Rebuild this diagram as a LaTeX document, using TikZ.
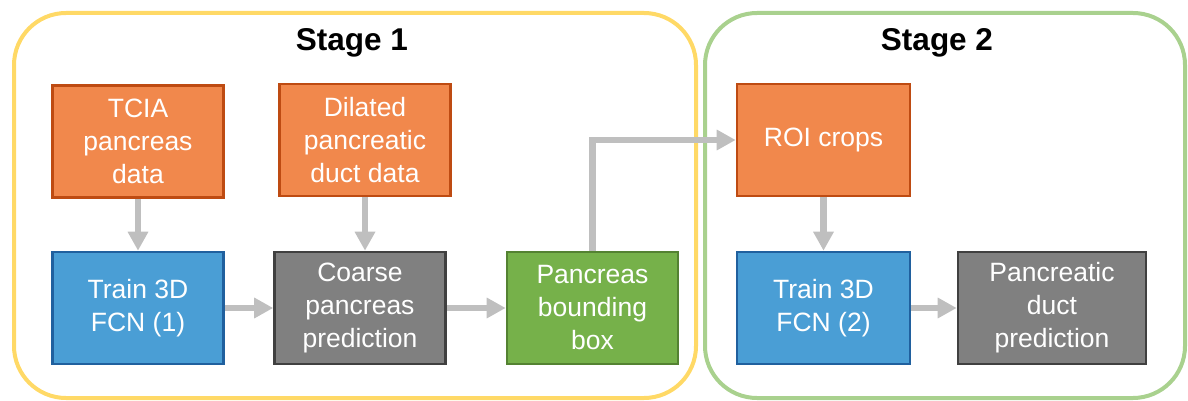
\documentclass[tikz,border=0pt]{standalone}
\usepackage{fontspec}
\setmainfont{Liberation Sans}
\usetikzlibrary{arrows.meta}
\definecolor{boxorange}{RGB}{241,136,76}
\definecolor{edgeorange}{RGB}{190,75,18}
\definecolor{boxblue}{RGB}{74,158,213}
\definecolor{edgeblue}{RGB}{32,96,158}
\definecolor{boxgray}{RGB}{128,128,128}
\definecolor{edgegray}{RGB}{64,64,64}
\definecolor{boxgreen}{RGB}{118,177,74}
\definecolor{edgegreen}{RGB}{84,130,50}
\definecolor{stageyellow}{RGB}{255,217,102}
\definecolor{stagegreen}{RGB}{169,209,142}
\definecolor{flowgray}{RGB}{191,191,191}
\tikzset{
  stagebox/.style={line width=4pt, rounded corners=52pt},
  block/.style={draw, line width=2.6pt, minimum width=171pt, minimum height=112pt,
    inner sep=0pt, align=center, text=white,
    font=\fontsize{26.5pt}{33pt}\selectfont},
  datablock/.style={block, fill=boxorange, draw=edgeorange},
  trainblock/.style={block, fill=boxblue, draw=edgeblue},
  predblock/.style={block, fill=boxgray, draw=edgegray},
  bboxblock/.style={block, fill=boxgreen, draw=edgegreen},
  stagetitle/.style={font=\fontsize{31.5pt}{36pt}\selectfont\bfseries, text=black},
  flow/.style={draw=flowgray, line width=6.5pt,
    -{Triangle[width=19.5pt,length=19pt]}},
}
\begin{document}
\begin{tikzpicture}[x=1pt,y=-1pt]
\useasboundingbox (0,0) rectangle (1188,401);

% stage frames
\draw[stagebox, stageyellow] (14,13) rectangle (696,398);
\draw[stagebox, stagegreen] (705,13) rectangle (1185,398);
\node[stagetitle] (s1) at (352,43) {Stage 1};
\node[stagetitle] (s2) at (937,43) {Stage 2};

% stage 1 blocks
\node[datablock] (tcia) at (138,141.5) {TCIA\\pancreas\\data};
\node[datablock] (dil) at (365,140) {Dilated\\pancreatic\\duct data};
\node[trainblock] (train1) at (138,308) {Train 3D\\FCN (1)};
\node[predblock] (coarse) at (360,308) {Coarse\\pancreas\\prediction};
\node[bboxblock] (bbox) at (592.5,308) {Pancreas\\bounding\\box};

% stage 2 blocks
\node[datablock, minimum width=173pt] (roi) at (823.5,140) {ROI crops};
\node[trainblock, minimum width=173pt] (train2) at (823.5,308) {Train 3D\\FCN (2)};
\node[predblock, minimum width=188pt] (duct) at (1052,308) {Pancreatic\\duct\\prediction};

% connectors
\draw[flow] (tcia.south) -- (train1.north);
\draw[flow] (dil.south) -- (dil.south |- coarse.north);
\draw[flow] (train1.east) -- (coarse.west);
\draw[flow] (coarse.east) -- (bbox.west);
\coordinate (turn) at (bbox.north |- roi.west);
\draw[flow] (bbox.north) -- (turn) -- (roi.west);
\draw[flow] (roi.south) -- (train2.north);
\draw[flow] (train2.east) -- (duct.west);
\end{tikzpicture}
\end{document}
